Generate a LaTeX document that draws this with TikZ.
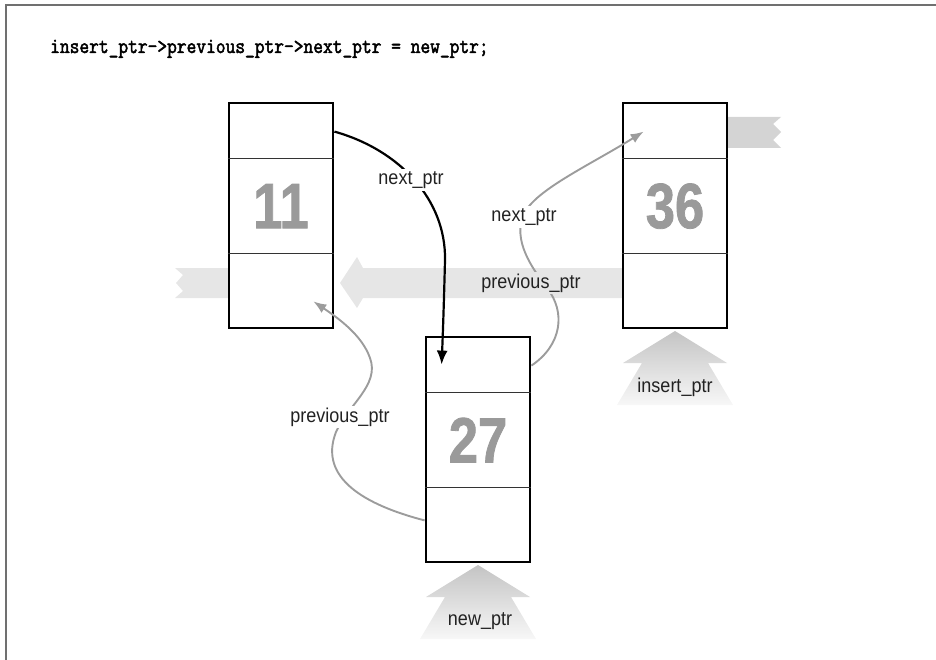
\documentclass[tikz,border=0pt]{standalone}
\usepackage{fontspec}
\usetikzlibrary{arrows.meta,calc}
\newfontfamily\numfont[FakeStretch=0.82,FakeBold=1.2]{Liberation Sans}
\newfontfamily\lblfont[FakeStretch=0.9]{Liberation Sans}
\newfontfamily\titlefont[FakeStretch=0.86,FakeBold=2.2]{Latin Modern Mono}
\definecolor{bandgray}{HTML}{E6E6E6}
\definecolor{stubgray}{HTML}{D4D4D4}
\definecolor{numgray}{HTML}{9A9A9A}
\definecolor{arrowgray}{HTML}{9C9C9C}
\definecolor{lblcol}{HTML}{222222}
\definecolor{shadetop}{HTML}{C4C4C4}
\definecolor{framegray}{HTML}{707070}
\tikzset{
  box/.style={draw, line width=2.8pt, fill=white, minimum width=104pt, minimum height=225pt, inner sep=0pt},
  divider/.style={line width=1.6pt, draw=black!80},
  num/.style={text=numgray, font=\numfont\bfseries\fontsize{64}{64}\selectfont, inner sep=0pt},
  lbl/.style={text=lblcol, font=\lblfont\fontsize{20}{22}\selectfont, inner sep=2pt},
  blk/.style={line width=2.2pt, -{Latex[length=14pt,width=11pt]}},
  gry/.style={draw=arrowgray, line width=1.9pt, -{Latex[length=13pt,width=10pt]}},
  title/.style={font=\titlefont\fontsize{22}{24}\selectfont, inner sep=0pt},
}
\begin{document}
\begin{tikzpicture}[x=1pt,y=-1pt]
\useasboundingbox (0,0) rectangle (936,660);
% frame
\draw[framegray, line width=2pt] (6,660) -- (6,5) -- (936,5);
% title
\node[title, anchor=base west] (title) at (50,53) {insert\_ptr->previous\_ptr->next\_ptr = new\_ptr;};
% bands
\fill[bandgray] (623,268) -- (363,268) -- (357,257) -- (340,283) -- (357,308) -- (363,298) -- (623,298) -- cycle;
\fill[bandgray] (229,268) -- (175,268) -- (183,275) -- (176,283) -- (183,291) -- (175,298) -- (229,298) -- cycle;
\fill[stubgray] (727,117) -- (781,117) -- (773,124) -- (781,132) -- (773,140) -- (781,148) -- (727,148) -- cycle;
% pointer arrows (shaded)
\shade[top color=shadetop, bottom color=white!97!black] (675,331) -- (727,363) -- (708,363) -- (733,405) -- (617,405) -- (642,363) -- (623,363) -- cycle;
\shade[top color=shadetop, bottom color=white!97!black] (478,565) -- (530,597) -- (511,597) -- (536,639) -- (420,639) -- (445,597) -- (426,597) -- cycle;
% boxes
\node[box] (b11) at (281,215.5) {};
\node[box] (b36) at (675,215.5) {};
\node[box] (b27) at (478,449.5) {};
\foreach \b in {b11,b36,b27}{
  \draw[divider] ($(\b.north west)+(0,57)$) -- ($(\b.north east)+(0,57)$);
  \draw[divider] ($(\b.north west)+(0,152)$) -- ($(\b.north east)+(0,152)$);
}
\node[num] (n11) at ($(b11.north)+(0,104.5)$) {11};
\node[num] (n36) at ($(b36.north)+(0,104.5)$) {36};
\node[num] (n27) at ($(b27.north)+(0,104.5)$) {27};
% connectors
\draw[blk] ($(b11.north east)+(0,30)$) .. controls (400,150) and (446,200) .. (445,260) .. controls (444,300) and (443,330) .. ($(b27.north west)+(17,29)$);
\draw[gry] ($(b27.north east)+(0,30)$) .. controls (562,345) and (566,312) .. (547,288) .. controls (532,268) and (512,240) .. (524,214) .. controls (535,190) and (590,165) .. ($(b36.north west)+(22,30)$);
\draw[gry] ($(b27.south west)+(0,-43)$) .. controls (365,505) and (318,478) .. (336,432) .. controls (348,405) and (380,385) .. (370,358) .. controls (362,335) and (338,318) .. ($(b11.south east)+(-21,-28)$);
% labels
\node[lbl, fill=white] (l1) at (411,180) {next\_ptr};
\node[lbl, fill=white] (l2) at (524,217) {next\_ptr};
\node[lbl, fill=bandgray] (l3) at (531,283) {previous\_ptr};
\node[lbl, fill=white] (l4) at (340,417) {previous\_ptr};
\node[lbl] (l5) at (675,387) {insert\_ptr};
\node[lbl] (l6) at (480,621) {new\_ptr};
\end{tikzpicture}
\end{document}
